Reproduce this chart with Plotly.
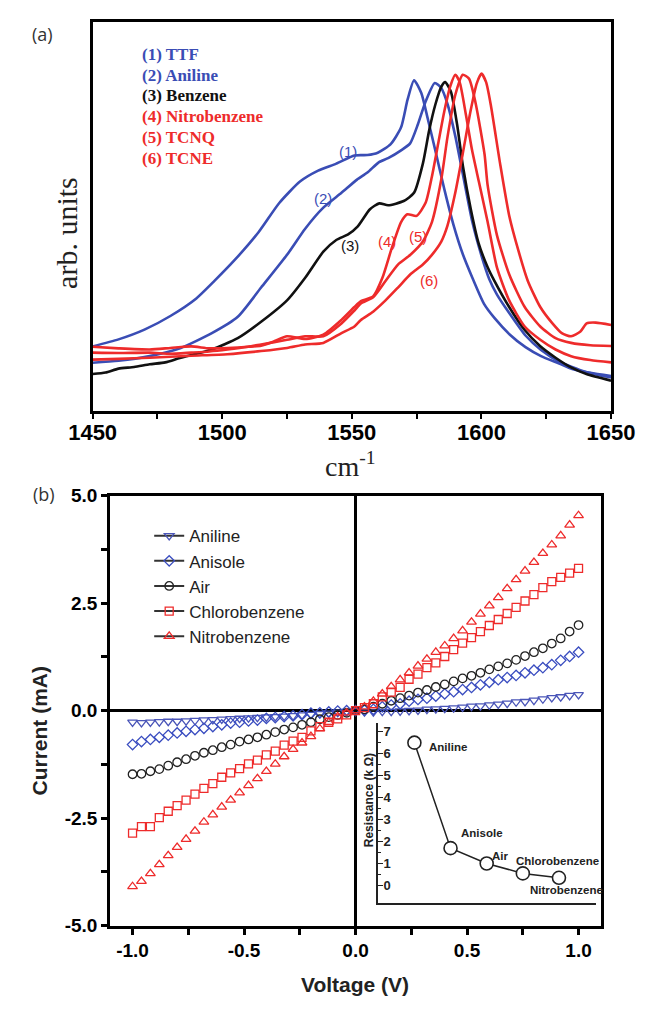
import plotly.graph_objects as go

W, H = 661, 1011
def px(x): return x / W
def py(y): return 1 - y / H

BLUE = "#3a4db5"
RED = "#ee2b2b"
BLACK = "#111111"

# ---------------- Panel (a): spectra (arb. units, 0..100) ----------------
ttf_x = [1450, 1460, 1470, 1480, 1490, 1497, 1505, 1514, 1522, 1530, 1537, 1544, 1551, 1556, 1560, 1565, 1569, 1571.5, 1574, 1576.8, 1579.2, 1582.2, 1585.7, 1589.3, 1592.9, 1596.5, 1601, 1605, 1611, 1617, 1623, 1630, 1635, 1642, 1650]
ttf_y = [16.7, 18.5, 21.0, 24.5, 29.0, 33.5, 39.0, 46.0, 53.5, 59.0, 61.8, 63.6, 65.7, 65.8, 66.4, 68.6, 72.9, 80.0, 85.0, 81.7, 75.4, 67.0, 57.0, 47.7, 40.2, 34.3, 27.6, 24.0, 19.7, 16.5, 14.2, 12.3, 10.9, 9.9, 9.1]

ani_x = [1450, 1460, 1472, 1484, 1496, 1506, 1515, 1525, 1532, 1539, 1546, 1552, 1556, 1560.5, 1564, 1569, 1572.5, 1575.5, 1578.5, 1582, 1584.5, 1587, 1590, 1593, 1596.5, 1600, 1603, 1606, 1611, 1617, 1623, 1630, 1640, 1650]
ani_y = [12.5, 13.0, 14.2, 16.3, 20.1, 24.3, 31.8, 40.2, 46.9, 52.3, 56.1, 59.5, 61.3, 64.0, 65.0, 67.0, 68.8, 73.7, 79.6, 84.3, 83.0, 78.7, 70.4, 60.3, 48.6, 40.0, 34.0, 30.0, 25.0, 19.5, 15.8, 12.8, 10.2, 8.7]

ben_x = [1450, 1455, 1460, 1466, 1472, 1478, 1484, 1490, 1496, 1506, 1515, 1525, 1532, 1539, 1544, 1548.7, 1552.3, 1557, 1560.6, 1564, 1570, 1574, 1577.4, 1579.8, 1582.2, 1584.5, 1586, 1588.2, 1590.6, 1592.9, 1595.9, 1598.9, 1602.4, 1605, 1610.7, 1616.7, 1622.6, 1628.6, 1634.6, 1640.5, 1650]
ben_y = [9.6, 10.0, 11.0, 11.4, 12.1, 12.6, 13.8, 14.8, 15.9, 18.8, 23.0, 28.5, 34.3, 41.0, 44.0, 45.5, 47.5, 51.9, 53.4, 52.9, 54.0, 56.1, 63.6, 72.0, 78.7, 83.3, 84.5, 82.1, 73.7, 62.8, 51.9, 43.2, 37.0, 33.5, 26.8, 20.9, 16.8, 13.8, 11.3, 9.6, 7.9]

nit_x = [1450, 1460, 1472, 1480, 1488, 1495, 1502, 1510, 1515, 1520, 1525, 1532, 1539, 1546, 1551, 1553.5, 1558.2, 1561.8, 1565.4, 1569, 1571.4, 1575, 1578.5, 1580.9, 1583.3, 1585.7, 1588.1, 1589.9, 1591.6, 1594, 1596.4, 1599, 1602.4, 1606, 1610.7, 1616.7, 1622.7, 1628.6, 1634.6, 1642, 1650]
nit_y = [16.6, 16.2, 15.9, 16.3, 16.7, 16.2, 16.3, 16.6, 16.9, 18.0, 19.3, 18.6, 19.7, 23.5, 26.8, 28.3, 29.5, 34.3, 41.9, 48.6, 50.6, 50.2, 53.6, 60.3, 68.7, 77.1, 83.7, 86.4, 84.5, 76.2, 67.0, 59.0, 48.6, 36.9, 28.5, 21.8, 18.4, 15.9, 14.2, 13.2, 12.6]

tcq_x = [1450, 1460, 1472, 1480, 1488, 1495, 1502, 1510, 1515, 1525, 1532, 1539, 1546, 1551, 1553.5, 1558.2, 1563, 1567.8, 1572.6, 1577.4, 1580.9, 1584.5, 1586.9, 1589.9, 1592.8, 1595.2, 1597.6, 1601.2, 1602.4, 1606, 1610.7, 1616.7, 1622.7, 1628.6, 1634.6, 1642, 1650]
tcq_y = [15.1, 15.0, 15.1, 14.8, 15.1, 15.4, 15.9, 16.6, 17.2, 18.4, 19.3, 19.3, 22.6, 25.9, 27.7, 29.3, 33.5, 37.7, 40.2, 43.6, 48.6, 59.5, 70.4, 81.2, 86.4, 85.4, 79.6, 66.0, 58.0, 45.2, 35.2, 26.8, 21.8, 18.8, 17.6, 17.0, 16.8]

tce_x = [1450, 1460, 1472, 1488, 1502, 1515, 1525, 1532, 1539, 1546, 1551, 1553.5, 1558.2, 1563, 1567.8, 1572.6, 1577.4, 1580.9, 1584.5, 1586.9, 1589.9, 1592.8, 1595.8, 1598.2, 1600, 1601.8, 1603.6, 1607.2, 1610.7, 1614.3, 1617.9, 1622.7, 1627.4, 1631, 1634.6, 1638.2, 1640.6, 1644.1, 1650]
tce_y = [13.3, 13.5, 13.8, 14.3, 14.7, 15.5, 16.3, 17.2, 17.6, 20.1, 21.8, 23.5, 25.6, 28.5, 31.8, 35.2, 37.7, 40.2, 43.6, 47.7, 56.1, 66.2, 77.1, 84.2, 86.7, 84.5, 78.7, 63.6, 50.3, 41.2, 33.5, 26.8, 22.6, 20.1, 19.3, 20.5, 22.6, 22.8, 22.2]

spectra = [
    ("(1) TTF", ttf_x, ttf_y, BLUE),
    ("(2) Aniline", ani_x, ani_y, BLUE),
    ("(3) Benzene", ben_x, ben_y, BLACK),
    ("(4) Nitrobenzene", nit_x, nit_y, RED),
    ("(5) TCNQ", tcq_x, tcq_y, RED),
    ("(6) TCNE", tce_x, tce_y, RED),
]

# ---------------- Panel (b): I-V curves ----------------
voltage = [-1.0, -0.96, -0.92, -0.88, -0.84, -0.8, -0.76, -0.72, -0.68, -0.64, -0.6, -0.56, -0.52, -0.48, -0.44, -0.4, -0.36, -0.32, -0.28, -0.24, -0.2, -0.16, -0.12, -0.08, -0.04, 0.0,
           0.04, 0.08, 0.12, 0.16, 0.2, 0.24, 0.28, 0.32, 0.36, 0.4, 0.44, 0.48, 0.52, 0.56, 0.6, 0.64, 0.68, 0.72, 0.76, 0.8, 0.84, 0.88, 0.92, 0.96, 1.0]

i_aniline = [-0.27, -0.28, -0.27, -0.26, -0.25, -0.25, -0.24, -0.23, -0.22, -0.21, -0.20, -0.19, -0.18, -0.17, -0.16, -0.15, -0.14, -0.13, -0.12, -0.10, -0.09, -0.07, -0.06, -0.04, -0.02, 0.0,
             -0.03, -0.03, -0.02, -0.02, -0.01, 0.0, 0.01, 0.03, 0.04, 0.05, 0.06, 0.08, 0.10, 0.11, 0.13, 0.15, 0.17, 0.20, 0.21, 0.24, 0.27, 0.30, 0.32, 0.35, 0.37]
i_anisole = [-0.79, -0.72, -0.67, -0.62, -0.57, -0.52, -0.48, -0.44, -0.41, -0.37, -0.33, -0.29, -0.27, -0.24, -0.22, -0.18, -0.16, -0.14, -0.12, -0.09, -0.06, -0.05, -0.03, -0.01, 0.0, 0.0,
             0.01, 0.03, 0.09, 0.13, 0.16, 0.22, 0.26, 0.29, 0.34, 0.39, 0.44, 0.49, 0.54, 0.60, 0.66, 0.72, 0.77, 0.82, 0.88, 0.94, 1.00, 1.07, 1.17, 1.26, 1.36]
i_air = [-1.48, -1.47, -1.41, -1.36, -1.28, -1.20, -1.13, -1.05, -0.98, -0.92, -0.85, -0.79, -0.72, -0.67, -0.62, -0.56, -0.50, -0.44, -0.39, -0.33, -0.27, -0.20, -0.15, -0.10, -0.05, 0.0,
         0.03, 0.09, 0.16, 0.23, 0.29, 0.35, 0.42, 0.48, 0.55, 0.61, 0.68, 0.75, 0.81, 0.88, 0.96, 1.03, 1.10, 1.18, 1.27, 1.36, 1.45, 1.56, 1.68, 1.84, 1.99]
i_chloro = [-2.85, -2.70, -2.70, -2.49, -2.34, -2.21, -2.08, -1.94, -1.81, -1.70, -1.55, -1.45, -1.35, -1.24, -1.15, -1.03, -0.94, -0.80, -0.71, -0.62, -0.47, -0.37, -0.27, -0.19, -0.10, 0.0,
            0.07, 0.16, 0.32, 0.43, 0.54, 0.73, 0.85, 1.00, 1.11, 1.26, 1.42, 1.57, 1.70, 1.84, 1.98, 2.12, 2.26, 2.40, 2.55, 2.70, 2.86, 3.00, 3.10, 3.20, 3.31]
i_nitro = [-4.09, -3.97, -3.79, -3.58, -3.37, -3.18, -2.99, -2.80, -2.59, -2.42, -2.24, -2.08, -1.91, -1.74, -1.58, -1.41, -1.24, -1.07, -0.90, -0.75, -0.60, -0.42, -0.27, -0.14, -0.05, 0.0,
           0.09, 0.22, 0.39, 0.56, 0.72, 0.88, 1.04, 1.20, 1.36, 1.51, 1.68, 1.86, 2.06, 2.25, 2.44, 2.63, 2.84, 3.05, 3.25, 3.45, 3.66, 3.86, 4.07, 4.32, 4.54]

iv_series = [
    ("Aniline", i_aniline, "triangle-down-open", "#4a55b8", 8.5),
    ("Anisole", i_anisole, "diamond-open", "#3a4dc0", 8),
    ("Air", i_air, "circle-open", "#222222", 8.5),
    ("Chlorobenzene", i_chloro, "square-open", "#ee2b2b", 8),
    ("Nitrobenzene", i_nitro, "triangle-up-open", "#ee2b2b", 8.5),
]

# ---------------- Inset: resistance ----------------
inset_names = ["Aniline", "Anisole", "Air", "Chlorobenzene", "Nitrobenzene"]
inset_pos = [1, 2, 3, 4, 5]
resistance = [6.5, 1.7, 1.0, 0.55, 0.35]

fig = go.Figure()

for name, xs, ys, col in spectra:
    fig.add_trace(go.Scatter(x=xs, y=ys, mode="lines", xaxis="x", yaxis="y",
                             line=dict(color=col, width=2.6, shape="spline", smoothing=0.6),
                             showlegend=False, hoverinfo="skip"))

for name, ys, sym, col, sz in iv_series:
    fig.add_trace(go.Scatter(x=voltage, y=ys, mode="markers", xaxis="x2", yaxis="y2",
                             marker=dict(symbol=sym, size=sz, color=col, line=dict(color=col, width=1.3)),
                             showlegend=False, hoverinfo="skip"))
for name, ys, sym, col, sz in iv_series:
    fig.add_trace(go.Scatter(x=[None], y=[None], mode="lines+markers", name=name, xaxis="x2", yaxis="y2",
                             line=dict(color="#333333", width=2),
                             marker=dict(symbol=sym, size=sz, color=col, line=dict(color=col, width=1.3)),
                             showlegend=True))

fig.add_trace(go.Scatter(x=inset_pos, y=resistance, mode="lines+markers", xaxis="x3", yaxis="y3",
                         line=dict(color="#222222", width=1.5),
                         marker=dict(symbol="circle", size=13, color="white", line=dict(color="#222222", width=1.6)),
                         showlegend=False, hoverinfo="skip"))

SANS = "Liberation Sans"
SERIF = "Liberation Serif"

fig.update_layout(
    width=W, height=H, margin=dict(l=0, r=0, t=0, b=0),
    paper_bgcolor="white", plot_bgcolor="white",
    xaxis=dict(domain=[px(74), px(633)], anchor="y", range=[1450, 1650],
               showline=True, mirror=True, linecolor="black", linewidth=2.5,
               ticks="outside", ticklen=5, tickwidth=2, tickcolor="black", tick0=1450, dtick=50,
               ticklabelstandoff=-6,
               minor=dict(ticks="outside", ticklen=5, tickwidth=2, tickcolor="black", dtick=25, tick0=1450, showgrid=False),
               tickfont=dict(family=SANS, size=22, color="black", weight="bold"),
               showgrid=False, zeroline=False),
    yaxis=dict(domain=[py(410), py(12)], anchor="x", range=[0, 100],
               showline=True, mirror=True, linecolor="black", linewidth=2.5,
               ticks="", showticklabels=False, showgrid=False, zeroline=False),
    xaxis2=dict(domain=[px(93), px(622)], anchor="y2", range=[-1.1, 1.1],
                showline=True, mirror=True, linecolor="black", linewidth=3,
                ticks="outside", ticklen=6, tickwidth=2.5, tickcolor="black",
                tickvals=[-1, -0.5, 0, 0.5, 1], ticktext=["-1.0", "-0.5", "0.0", "0.5", "1.0"],
                minor=dict(ticks="outside", ticklen=6, tickwidth=2.5, tickcolor="black", tickvals=[-0.75, -0.25, 0.25, 0.75], showgrid=False),
                tickfont=dict(family=SANS, size=19, color="black", weight="bold"),
                showgrid=False, zeroline=True, zerolinecolor="black", zerolinewidth=3),
    yaxis2=dict(domain=[py(935), py(496)], anchor="x2", range=[-5, 5],
                showline=True, mirror=True, linecolor="black", linewidth=3,
                ticks="outside", ticklen=6, tickwidth=2.5, tickcolor="black",
                tickvals=[-5, -2.5, 0, 2.5, 5], ticktext=["-5.0", "-2.5", "0.0", "2.5", "5.0"],
                minor=dict(ticks="outside", ticklen=6, tickwidth=2.5, tickcolor="black", tickvals=[-3.75, -1.25, 1.25, 3.75], showgrid=False),
                tickfont=dict(family=SANS, size=19, color="black", weight="bold"),
                showgrid=False, zeroline=True, zerolinecolor="black", zerolinewidth=3),
    xaxis3=dict(domain=[px(382), px(617)], anchor="y3", range=[0, 6.03],
                showline=True, linecolor="#222222", linewidth=1.5, ticks="", showticklabels=False,
                showgrid=False, zeroline=False),
    yaxis3=dict(domain=[py(912), py(728)], anchor="x3", range=[-0.8, 7.4],
                showline=True, linecolor="#222222", linewidth=1.5,
                ticks="inside", ticklen=5, tickwidth=1.2, tickcolor="#222222",
                tickvals=[0, 1, 2, 3, 4, 5, 6, 7], ticklabelposition="inside",
                minor=dict(ticks="inside", ticklen=3, tickwidth=1, tickcolor="#222222", tickvals=[0.5, 1.5, 2.5, 3.5, 4.5, 5.5, 6.5], showgrid=False),
                tickfont=dict(family=SANS, size=13, color="#222222", weight="bold"),
                showgrid=False, zeroline=False),
    legend=dict(x=px(135), y=py(519), xanchor="left", yanchor="top",
                font=dict(family=SANS, size=17, color="#222222"),
                bgcolor="rgba(0,0,0,0)", borderwidth=0, tracegroupgap=0),
)

ann = []
ann.append(dict(text="(a)", x=px(20), y=py(24), font=dict(family="Open Sans", size=18, color="#333333")))
ann.append(dict(text="(b)", x=px(22), y=py(494), font=dict(family="Open Sans", size=18, color="#333333")))

leg_cols = [BLUE, BLUE, BLACK, RED, RED, RED]
for i, (name, _, _, _) in enumerate(spectra):
    ann.append(dict(text=name, x=px(125), y=py(45 + 21.4 * i), xanchor="left",
                    font=dict(family=SERIF, size=17, color=leg_cols[i], weight="bold")))

curve_labels = [("(1)", 349, 145, BLUE), ("(2)", 322, 192, BLUE), ("(3)", 352, 241, BLACK),
                ("(4)", 391, 236, RED), ("(5)", 425, 231, RED), ("(6)", 437, 276, RED)]
for t, x, y, c in curve_labels:
    ann.append(dict(text=t, x=px(x), y=py(y), font=dict(family=SANS, size=15, color=c)))

ann.append(dict(text="arb. units", x=px(46), y=py(228), textangle=-90,
                font=dict(family=SERIF, size=30, color="#222222")))
ann.append(dict(text="cm<sup>-1</sup>", x=px(352), y=py(464),
                font=dict(family=SERIF, size=28, color="#222222")))
ann.append(dict(text="Current (mA)", x=px(17), y=py(736), textangle=-90,
                font=dict(family=SANS, size=21, color="#222222", weight="bold")))
ann.append(dict(text="Voltage (V)", x=px(357), y=py(995),
                font=dict(family=SANS, size=21, color="#222222", weight="bold")))
ann.append(dict(text="Resistance (k Ω)", x=px(372), y=py(807), textangle=-90,
                font=dict(family=SANS, size=12, color="#222222", weight="bold")))

inset_label_pos = [(435, 753), (469, 840), (503, 864), (528, 869), (543, 899)]
for name, (x, y) in zip(inset_names, inset_label_pos):
    ann.append(dict(text=name, x=px(x), y=py(y), xanchor="left",
                    font=dict(family=SANS, size=11.5, color="#222222", weight="bold")))

for a in ann:
    a.setdefault("xref", "paper")
    a.setdefault("yref", "paper")
    a.setdefault("showarrow", False)
    a.setdefault("xanchor", "center")
    a.setdefault("yanchor", "middle")

fig.update_layout(annotations=ann)

fig.write_html("out.html")
